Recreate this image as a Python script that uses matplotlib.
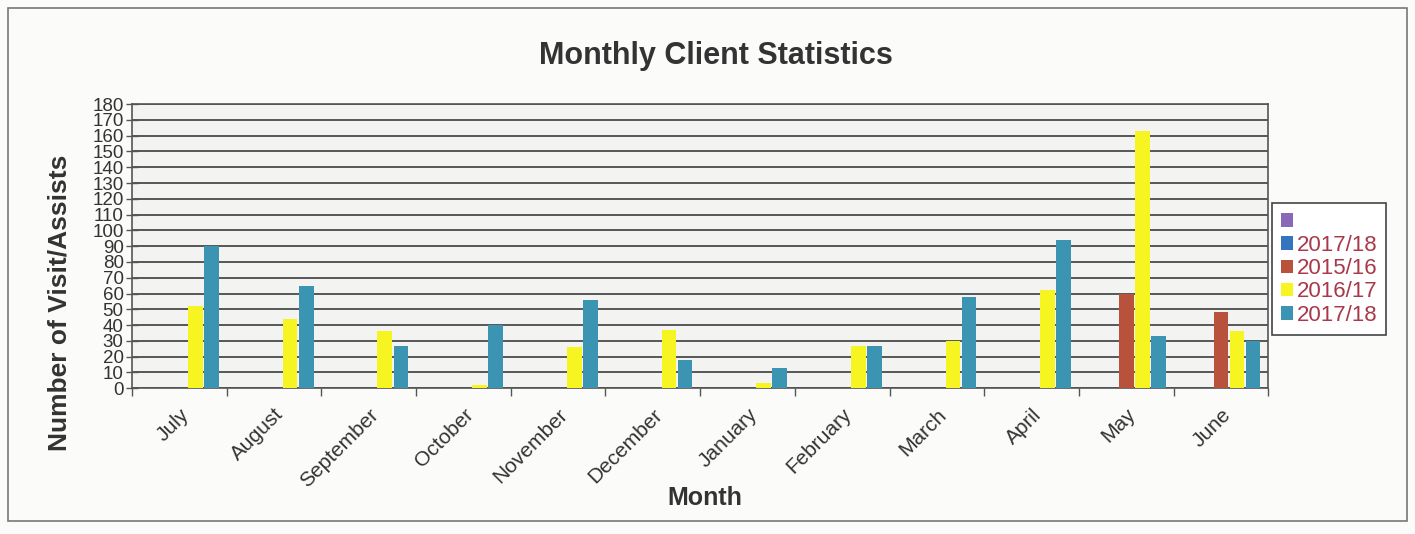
import numpy as np
import matplotlib
matplotlib.use("Agg")
import matplotlib.pyplot as plt
from matplotlib.patches import Rectangle, Patch

months = ["July", "August", "September", "October", "November", "December",
          "January", "February", "March", "April", "May", "June"]
series_names = ["", "2017/18", "2015/16", "2016/17", "2017/18"]
s_blank = [np.nan] * 12
s_blue_1718 = [np.nan] * 12
s_2015_16 = [np.nan, np.nan, np.nan, np.nan, np.nan, np.nan,
             np.nan, np.nan, np.nan, np.nan, 60, 48]
s_2016_17 = [52, 44, 36, 2, 26, 37, 3, 27, 30, 62, 163, 36]
s_2017_18 = [90, 65, 27, 40, 56, 18, 13, 27, 58, 94, 33, 30]
y_ticks = list(range(0, 181, 10))

colors = ["#8a68b8", "#3575c0", "#b8523d", "#f6f521", "#3b94b2"]
series = [s_blank, s_blue_1718, s_2015_16, s_2016_17, s_2017_18]

plt.rcParams['font.family'] = ['Liberation Sans', 'DejaVu Sans']

fig = plt.figure(figsize=(14.15, 5.34), dpi=100, facecolor="#fbfbfa")
ax = fig.add_axes([0.0933, 0.273, 0.803, 0.532])
ax.set_facecolor("#f3f3f1")

x = np.arange(len(months))
step = 0.17
w = 0.155
for i, (vals, c) in enumerate(zip(series, colors)):
    ax.bar(x + (i - 2) * step, vals, width=w, color=c, zorder=3)

ax.set_xlim(-0.5, len(months) - 0.5)
ax.set_ylim(0, 180)
ax.set_yticks(y_ticks)
ax.set_yticklabels([str(t) for t in y_ticks], fontsize=13.5, color="#333333")
ax.yaxis.grid(True, color="#4a4a4a", linewidth=1.3, zorder=1)
ax.tick_params(axis='y', direction='inout', length=8, width=1, color="#555555", pad=2)

ax.set_xticks(x)
ax.set_xticklabels(months, rotation=45, ha='right', va='top', rotation_mode='anchor',
                   fontsize=15, color="#333333")
ax.tick_params(axis='x', which='major', length=0, pad=12)
ax.set_xticks(np.arange(-0.5, len(months), 1), minor=True)
ax.tick_params(axis='x', which='minor', length=6, width=1, color="#555555", direction='out')

for s in ax.spines.values():
    s.set_color("#555555")
    s.set_linewidth(1.2)

ax.set_xlabel("Month", fontsize=18, fontweight='bold', color="#333333")
ax.xaxis.set_label_coords(0.504, -0.345)
ax.set_ylabel("Number of Visit/Assists", fontsize=19, fontweight='bold',
              color="#333333")
ax.yaxis.set_label_coords(-0.053, 0.30)
fig.text(0.506, 0.895, "Monthly Client Statistics", ha='center', va='center',
         fontsize=22, fontweight='bold', color="#333333")

handles = [Patch(facecolor=c, edgecolor='none') for c in colors]
leg = fig.legend(handles, series_names, loc='upper left',
                 bbox_to_anchor=(0.899, 0.62), fontsize=16, frameon=True,
                 fancybox=False, edgecolor="#444444", facecolor="#ffffff",
                 framealpha=1, handlelength=0.55, handleheight=0.55,
                 handletextpad=0.15, labelspacing=0.1, borderpad=0.4,
                 borderaxespad=0)
for t in leg.get_texts():
    t.set_color("#a8384a")
leg.get_frame().set_linewidth(1.2)

fig.patches.append(Rectangle((0.006, 0.025), 0.988, 0.96, transform=fig.transFigure,
                             fill=False, edgecolor="#777777", linewidth=1.2))

fig.savefig("out.png", dpi=100, facecolor=fig.get_facecolor())
